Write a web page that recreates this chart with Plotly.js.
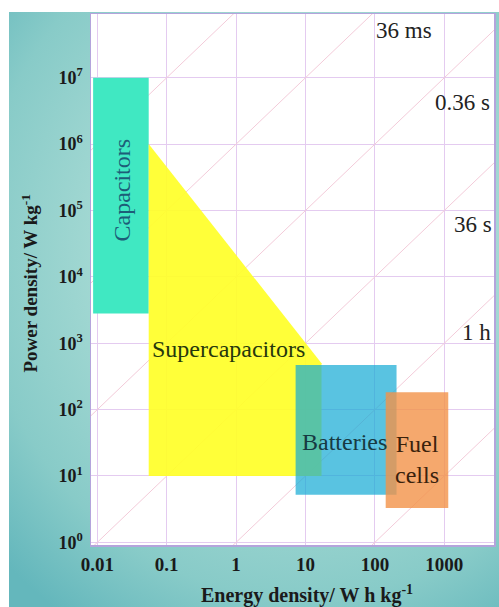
<!DOCTYPE html>
<html>
<head>
<meta charset="utf-8">
<script src="https://cdn.plot.ly/plotly-3.0.1.min.js"></script>
<style>
  html, body { margin: 0; padding: 0; background: #ffffff; }
  #wrap { position: relative; width: 499px; height: 607px; overflow: hidden; }
  #bg { position: absolute; left: 9px; top: 12px; width: 490px; height: 595px;
        background: radial-gradient(ellipse 85% 75% at 60% 40%, #bde5df 0%, #a6dad4 45%, #88cbc8 78%, #64b7bc 100%); }
  #chart { position: absolute; left: 0; top: 0; width: 499px; height: 607px; }
</style>
</head>
<body>
<div id="wrap"><div id="bg"></div><div id="chart"></div></div>
<script>
// ---- data (energy density in W h/kg, power density in W/kg) ----
const xTickVals = [0.01, 0.1, 1, 10, 100, 1000];
const xTickText = ['0.01', '0.1', '1', '10', '100', '1000'];
const yTickVals = [1, 10, 100, 1e3, 1e4, 1e5, 1e6, 1e7];
const yTickText = ['10<sup>0</sup>', '10<sup>1</sup>', '10<sup>2</sup>', '10<sup>3</sup>', '10<sup>4</sup>', '10<sup>5</sup>', '10<sup>6</sup>', '10<sup>7</sup>'];
const xTitle = 'Energy density/ W h kg<sup>-1</sup>';
const yTitle = 'Power density/ W kg<sup>-1</sup>';

// constant discharge-time lines (hours): P = E / t
const timeLinesH = [1e-8, 1e-6, 1e-4, 1e-2, 1, 100];
const timeLineE = [1e-3, 1e5];

// capacitors rectangle [Emin, Emax], [Pmin, Pmax]
const capE = [0.0087, 0.055];
const capP = [2800, 1e7];
// supercapacitors polygon
const supE = [0.055, 0.055, 17, 17];
const supP = [1e6, 10, 10, 500];
// batteries rectangle
const batE = [7.2, 205];
const batP = [5.2, 470];
// fuel cells rectangle
const fuelE = [143, 1140];
const fuelP = [3.3, 182];

// labels
const regionLabels = ['Capacitors', 'Supercapacitors', 'Batteries', 'Fuel<br>cells'];
const timeLabels = ['36 ms', '0.36 s', '36 s', '1 h'];

function rect(e, p) {
  return { x: [e[0], e[1], e[1], e[0], e[0]], y: [p[0], p[0], p[1], p[1], p[0]] };
}

const traces = [];
timeLinesH.forEach(t => {
  traces.push({
    x: timeLineE, y: timeLineE.map(e => e / t), mode: 'lines', type: 'scatter',
    line: { color: '#f3cbd9', width: 1 }, hoverinfo: 'skip', showlegend: false
  });
});
const cap = rect(capE, capP);
traces.push({ x: cap.x, y: cap.y, mode: 'lines', fill: 'toself', fillcolor: '#40e8c2',
  line: { width: 0 }, showlegend: false, hoverinfo: 'skip' });
traces.push({ x: supE.concat([supE[0]]), y: supP.concat([supP[0]]), mode: 'lines', fill: 'toself',
  fillcolor: 'rgba(255,255,40,0.92)', line: { width: 0 }, showlegend: false, hoverinfo: 'skip' });
const bat = rect(batE, batP);
traces.push({ x: bat.x, y: bat.y, mode: 'lines', fill: 'toself', fillcolor: 'rgba(19,169,212,0.70)',
  line: { width: 0 }, showlegend: false, hoverinfo: 'skip' });
const fuel = rect(fuelE, fuelP);
traces.push({ x: fuel.x, y: fuel.y, mode: 'lines', fill: 'toself', fillcolor: 'rgba(242,146,72,0.80)',
  line: { width: 0 }, showlegend: false, hoverinfo: 'skip' });

const serif = '"Liberation Serif", "Times New Roman", Times, serif';
const L = Math.log10;
const annotations = [
  { text: regionLabels[0], x: L(0.0227), y: L(2.0e5), textangle: -90, font: { family: serif, size: 24, color: '#1d5d78' } },
  { text: regionLabels[1], x: L(0.78), y: L(830), font: { family: serif, size: 24, color: '#26380c' } },
  { text: regionLabels[2], x: L(36.8), y: L(32.9), font: { family: serif, size: 24, color: '#173a42' } },
  { text: regionLabels[3], x: L(398), y: L(18), font: { family: serif, size: 24, color: '#3a220c' } },
  { text: timeLabels[0], x: L(262), y: L(5.2e7), font: { family: serif, size: 23, color: '#222222' } },
  { text: timeLabels[1], x: L(1830), y: L(4.3e6), font: { family: serif, size: 23, color: '#222222' } },
  { text: timeLabels[2], x: L(2550), y: L(6.2e4), font: { family: serif, size: 23, color: '#222222' } },
  { text: timeLabels[3], x: L(2950), y: L(1450), font: { family: serif, size: 23, color: '#222222' } }
].map(a => Object.assign({ xref: 'x', yref: 'y', showarrow: false, xanchor: 'center', yanchor: 'middle' }, a));

// axis titles placed as paper annotations
annotations.push({ text: xTitle, xref: 'paper', yref: 'paper', x: 0.5, y: 0, xshift: 14, yshift: -49,
  showarrow: false, xanchor: 'center', yanchor: 'middle',
  font: { family: serif, size: 20, color: '#1a1a1a', weight: 'bold' } });
annotations.push({ text: yTitle, xref: 'paper', yref: 'paper', x: 0, y: 0.5, xshift: -62, yshift: -4,
  textangle: -90, showarrow: false, xanchor: 'center', yanchor: 'middle',
  font: { family: serif, size: 19, color: '#1a1a1a', weight: 'bold' } });

const layout = {
  width: 499, height: 607,
  margin: { l: 91, r: 5, t: 14, b: 62 },
  paper_bgcolor: 'rgba(0,0,0,0)',
  plot_bgcolor: '#ffffff',
  font: { family: serif, color: '#1a1a1a' },
  showlegend: false,
  xaxis: {
    type: 'log', range: [-2.091, 3.716],
    tickvals: xTickVals, ticktext: xTickText, ticks: '',
    ticklabelstandoff: 2,
    tickfont: { family: serif, size: 19, color: '#1a1a1a', weight: 'bold' },
    showgrid: true, gridcolor: '#e4cbf0', gridwidth: 1, zeroline: false,
    showline: true, linecolor: '#b4a4dc', linewidth: 1.5, mirror: true
  },
  yaxis: {
    type: 'log', range: [-0.04, 7.96],
    tickvals: yTickVals, ticktext: yTickText, ticks: '',
    ticklabelstandoff: 3,
    tickfont: { family: serif, size: 18, color: '#1a1a1a', weight: 'bold' },
    showgrid: true, gridcolor: '#e4cbf0', gridwidth: 1, zeroline: false,
    showline: true, linecolor: '#b4a4dc', linewidth: 1.5, mirror: true
  },
  annotations: annotations
};

Plotly.newPlot('chart', traces, layout, { staticPlot: true, displayModeBar: false });
</script>
</body>
</html>
